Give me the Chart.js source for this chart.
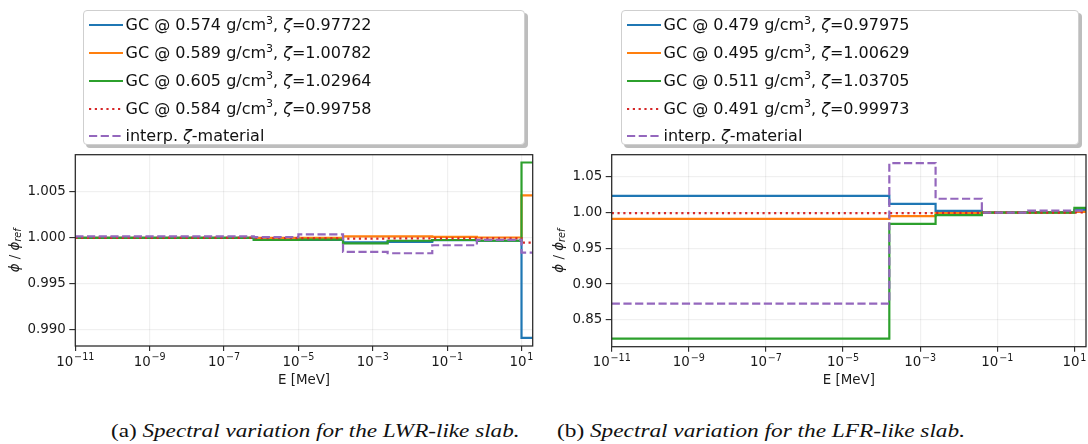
<!DOCTYPE html>
<html><head><meta charset="utf-8">
<script src="https://cdn.jsdelivr.net/npm/chart.js@4.4.0/dist/chart.umd.min.js"></script>
<style>
html,body{margin:0;padding:0;background:#fff;}
#wrap{position:relative;width:1088px;height:444px;overflow:hidden;background:#fff;font-family:"DejaVu Sans",sans-serif;}
canvas{position:absolute;top:0;}
.legend{position:absolute;top:10px;height:135px;border:1px solid #cfcfcf;border-radius:4px;background:#fff;box-shadow:3px 3px 0 #bdbdbd;box-sizing:border-box;}
.row{position:absolute;left:0;height:20px;line-height:20px;font-size:16px;color:#111;white-space:nowrap;}
.row svg{position:absolute;top:8px;}
.row .t{position:absolute;top:0;}
.row sup{font-size:11px;position:relative;top:-6.5px;vertical-align:baseline;line-height:0;}
.cap{position:absolute;font-family:"Liberation Serif",serif;font-size:19px;line-height:19px;white-space:nowrap;transform-origin:0 0;color:#111;}
</style>
</head><body>
<div id="wrap">
  <canvas id="cA" width="544" height="395" style="left:0;width:544px;height:395px"></canvas>
  <canvas id="cB" width="544" height="395" style="left:544px;width:544px;height:395px"></canvas>
  <div id="legA" class="legend" style="left:83px;width:442px"></div>
  <div id="legB" class="legend" style="left:621px;width:458px"></div>
  <span id="capA" class="cap" style="left:111px;top:421px">(a) <i>Spectral variation for the LWR-like slab.</i></span>
  <span id="capB" class="cap" style="left:557px;top:421px">(b) <i>Spectral variation for the LFR-like slab.</i></span>
</div>
<script>
// group edges [MeV] and x tick exponents
const edges = [1e-11, 6.31e-7, 1e-5, 1.585e-4, 2.512e-3, 3.981e-2, 0.631, 10, 20];
const xTickExps = [-11, -9, -7, -5, -3, -1, 1];

// (a) LWR-like slab
const densA = ['0.574', '0.589', '0.605', '0.584'];
const zetaA = ['0.97722', '1.00782', '1.02964', '0.99758'];
const blueA   = [1.0000, 0.99983, 0.99978, 0.99953, 0.99957, 0.99977, 0.99970, 0.98915];
const orangeA = [1.0000, 1.00000, 1.00002, 1.00018, 1.00018, 1.00012, 1.00005, 1.00462];
const greenA  = [1.0000, 0.99978, 0.99982, 0.99942, 0.99970, 0.99978, 0.99970, 1.00820];
const redA    = [1.0000, 0.99998, 0.99997, 0.99993, 0.99995, 0.99995, 0.99995, 0.99950];
const purpleA = [1.00018, 1.00010, 1.00040, 0.99849, 0.99834, 0.99921, 0.99980, 0.99840];
const yTicksA = [0.990, 0.995, 1.000, 1.005];

// (b) LFR-like slab
const densB = ['0.479', '0.495', '0.511', '0.491'];
const zetaB = ['0.97975', '1.00629', '1.03705', '0.99973'];
const blueB   = [1.0234, 1.0234, 1.0234, 1.0122, 1.0025, 1.0003, 1.0008, 1.0040];
const orangeB = [0.9912, 0.9912, 0.9912, 0.9953, 0.9994, 1.0000, 1.0000, 1.0010];
const greenB  = [0.8235, 0.8235, 0.8235, 0.9842, 0.9966, 1.0000, 1.0000, 1.0068];
const redB    = [0.9993, 0.9993, 0.9993, 0.9995, 0.9998, 1.0000, 1.0001, 1.0005];
const purpleB = [0.8725, 0.8725, 0.8725, 1.0694, 1.0195, 1.0000, 1.0030, 1.0030];
const yTicksB = [0.85, 0.90, 0.95, 1.00, 1.05];

const colors = ['#1f77b4', '#ff7f0e', '#2ca02c', '#d62728', '#9467bd'];
const dashes = [[], [], [], [2.2, 3.6], [8.2, 3.5]];
const LW = 2.2;

function buildLegend(id, dens, zeta) {
  const el = document.getElementById(id);
  const labels = dens.map((d, i) => 'GC @ ' + d + ' g/cm<sup>3</sup>, <i>\u03b6</i>=' + zeta[i]);
  labels.push('interp. <i>\u03b6</i>-material');
  labels.forEach((lab, i) => {
    const row = document.createElement('div');
    row.className = 'row';
    row.style.top = (4.4 + 27.7 * i) + 'px';
    row.style.width = '100%';
    const da = dashes[i].length ? dashes[i].join(' ') : 'none';
    row.innerHTML = '<svg width="34" height="4" style="left:4.5px"><line x1="0" y1="2" x2="34" y2="2" stroke="' + colors[i] +
      '" stroke-width="' + LW + '" stroke-dasharray="' + da + '"/></svg><span class="t" style="left:41.5px">' + lab + '</span>';
    el.appendChild(row);
  });
}
buildLegend('legA', densA, zetaA);
buildLegend('legB', densB, zetaB);

['capA', 'capB'].forEach(id => {
  const el = document.getElementById(id);
  const w = el.offsetWidth;
  el.style.transform = 'scaleX(' + (408 / w) + ')';
});

const textPlugin = {
  id: 'textPlugin',
  afterDatasetsDraw(chart) {
    const ctx = chart.ctx, a = chart.chartArea;
    ctx.save();
    ctx.strokeStyle = '#262626';
    ctx.lineWidth = 1.25;
    ctx.strokeRect(a.left, a.top, a.right - a.left, a.bottom - a.top);
    ctx.restore();
  },
  afterDraw(chart) {
    const ctx = chart.ctx, a = chart.chartArea, xs = chart.scales.x;
    const o = chart.options.plugins.textPlugin;
    ctx.save();
    ctx.fillStyle = '#1a1a1a';
    ctx.textAlign = 'left';
    ctx.textBaseline = 'alphabetic';
    const fb = '13.4px "DejaVu Sans"', fe = '9.6px "DejaVu Sans"';
    xTickExps.forEach(e => {
      const px = xs.getPixelForValue(Math.pow(10, e));
      const base = '10', ex = (e < 0 ? '\u2212' : '') + Math.abs(e);
      ctx.font = fb; const wb = ctx.measureText(base).width;
      ctx.font = fe; const we = ctx.measureText(ex).width;
      const x0 = px - (wb + we + 0.8) / 2;
      ctx.font = fb; ctx.fillText(base, x0, a.bottom + 19.5);
      ctx.font = fe; ctx.fillText(ex, x0 + wb + 0.8, a.bottom + 13.8);
    });
    ctx.font = fb;
    ctx.textAlign = 'center';
    ctx.fillText('E [MeV]', (a.left + a.right) / 2, 384);
    // y title
    const parts = [
      {t: '\u03d5', f: 'italic 13.4px "DejaVu Sans"', dy: 0},
      {t: ' / ', f: '13.4px "DejaVu Sans"', dy: 0},
      {t: '\u03d5', f: 'italic 13.4px "DejaVu Sans"', dy: 0},
      {t: 'ref', f: 'italic 9.6px "DejaVu Sans"', dy: 2.8}
    ];
    let tw = 0;
    parts.forEach(p => { ctx.font = p.f; p.w = ctx.measureText(p.t).width; tw += p.w; });
    ctx.translate(o.yTitleX, (a.top + a.bottom) / 2);
    ctx.rotate(-Math.PI / 2);
    ctx.textAlign = 'left';
    let x = -tw / 2;
    parts.forEach(p => { ctx.font = p.f; ctx.fillText(p.t, x, p.dy); x += p.w; });
    ctx.restore();
  }
};

function makeChart(id, series, yTicks, dec, yMin, yMax, lay) {
  const datasets = series.map((vals, i) => ({
    data: edges.map((e, k) => ({x: e, y: vals[Math.min(k, vals.length - 1)]})),
    borderColor: colors[i],
    borderWidth: LW,
    borderDash: dashes[i],
    borderCapStyle: 'butt',
    borderJoinStyle: 'miter',
    stepped: 'before',
    pointRadius: 0,
    fill: false,
    order: 5 - i
  }));
  return new Chart(document.getElementById(id), {
    type: 'line',
    data: {datasets},
    plugins: [textPlugin],
    options: {
      responsive: false,
      animation: false,
      devicePixelRatio: 1,
      events: [],
      layout: {padding: {top: lay.top, right: lay.right, left: 0, bottom: 0}},
      plugins: {legend: {display: false}, tooltip: {enabled: false}, textPlugin: {yTitleX: lay.yTitleX}},
      scales: {
        x: {
          type: 'logarithmic',
          min: 1e-11, max: 20,
          afterBuildTicks: s => { s.ticks = xTickExps.map(e => ({value: Math.pow(10, e)})); },
          afterFit: s => { s.height = lay.xH; },
          ticks: {display: false, autoSkip: false},
          grid: {color: 'rgba(0,0,0,0.06)', lineWidth: 1.2, drawTicks: true, tickLength: 5, tickColor: '#262626', tickWidth: 1.1},
          border: {display: false}
        },
        y: {
          type: 'linear',
          min: yMin, max: yMax,
          afterBuildTicks: s => { s.ticks = yTicks.map(v => ({value: v})); },
          afterFit: s => { s.width = lay.yW; },
          ticks: {
            autoSkip: false,
            padding: 3.5,
            color: '#1a1a1a',
            font: {family: 'DejaVu Sans', size: 13.4},
            callback: v => Number(v).toFixed(dec)
          },
          grid: {color: 'rgba(0,0,0,0.06)', lineWidth: 1.2, drawTicks: true, tickLength: 6, tickColor: '#262626', tickWidth: 1.1},
          border: {display: false}
        }
      }
    }
  });
}

makeChart('cA', [blueA, orangeA, greenA, redA, purpleA], yTicksA, 3, 0.98826, 1.00905,
  {top: 154.7, right: 11.3, xH: 49, yW: 75.3, yTitleX: 18.5});
makeChart('cB', [blueB, orangeB, greenB, redB, purpleB], yTicksB, 2, 0.8123, 1.0812,
  {top: 154.7, right: 2, xH: 48.3, yW: 67.7, yTitleX: 18.5});
</script>
</body></html>
